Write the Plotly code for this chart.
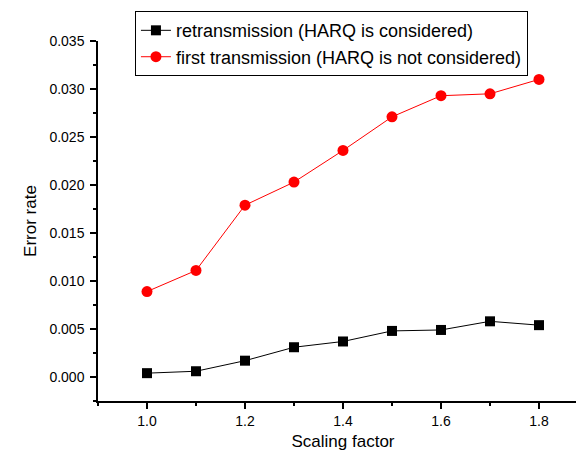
import plotly.graph_objects as go

scaling = [1.0, 1.1, 1.2, 1.3, 1.4, 1.5, 1.6, 1.7, 1.8]
retrans = [0.0004, 0.0006, 0.0017, 0.0031, 0.0037, 0.0048, 0.0049, 0.0058, 0.0054]
first_tx = [0.0089, 0.0111, 0.0179, 0.0203, 0.0236, 0.0271, 0.0293, 0.0295, 0.0310]
series_names = ["retransmission (HARQ is considered)",
                "first transmission (HARQ is not considered)"]
y_ticks = [0.000, 0.005, 0.010, 0.015, 0.020, 0.025, 0.030, 0.035]
y_ticklabels = ["0.000", "0.005", "0.010", "0.015", "0.020", "0.025", "0.030", "0.035"]
x_ticks = [1.0, 1.2, 1.4, 1.6, 1.8]
x_ticklabels = ["1.0", "1.2", "1.4", "1.6", "1.8"]

FONT = "Liberation Sans, Arial, sans-serif"

fig = go.Figure()
fig.add_trace(go.Scatter(
    x=scaling, y=retrans, name=series_names[0], mode="lines+markers",
    line=dict(color="black", width=1),
    marker=dict(symbol="square", size=10, color="black"),
))
fig.add_trace(go.Scatter(
    x=scaling, y=first_tx, name=series_names[1], mode="lines+markers",
    line=dict(color="red", width=1),
    marker=dict(symbol="circle", size=11, color="red"),
))

axis_common = dict(
    showline=True, linecolor="black", linewidth=1.5, mirror=False,
    showgrid=False, zeroline=False, ticks="outside", ticklen=6,
    tickwidth=1.5, tickcolor="black",
    tickfont=dict(family=FONT, size=14, color="black"),
)

fig.update_xaxes(
    range=[0.9, 1.9], tickmode="array", tickvals=x_ticks, ticktext=x_ticklabels,
    title=dict(text="Scaling factor", font=dict(family=FONT, size=17, color="black"), standoff=8),
    minor=dict(ticks="outside", ticklen=3, dtick=0.1, tick0=0.9, tickcolor="black", tickwidth=1.5),
    **axis_common,
)
fig.update_yaxes(
    range=[-0.0025, 0.035], tickmode="array", tickvals=y_ticks, ticktext=y_ticklabels,
    title=dict(text="Error rate", font=dict(family=FONT, size=17, color="black"), standoff=8),
    minor=dict(ticks="outside", ticklen=3, dtick=0.0025, tick0=0, tickcolor="black", tickwidth=1.5),
    ticklabelstandoff=3,
    **axis_common,
)

fig.update_layout(
    width=584, height=450,
    margin=dict(l=90, r=4, t=32, b=57),
    paper_bgcolor="white", plot_bgcolor="white",
    font=dict(family=FONT, color="black"),
    legend=dict(
        x=0.0754, y=1.08, xanchor="left", yanchor="top",
        bordercolor="black", borderwidth=1, bgcolor="white",
        font=dict(family=FONT, size=18, color="black"),
        tracegroupgap=0, itemsizing="trace",
    ),
    showlegend=True,
)

fig.write_html("out.html")
